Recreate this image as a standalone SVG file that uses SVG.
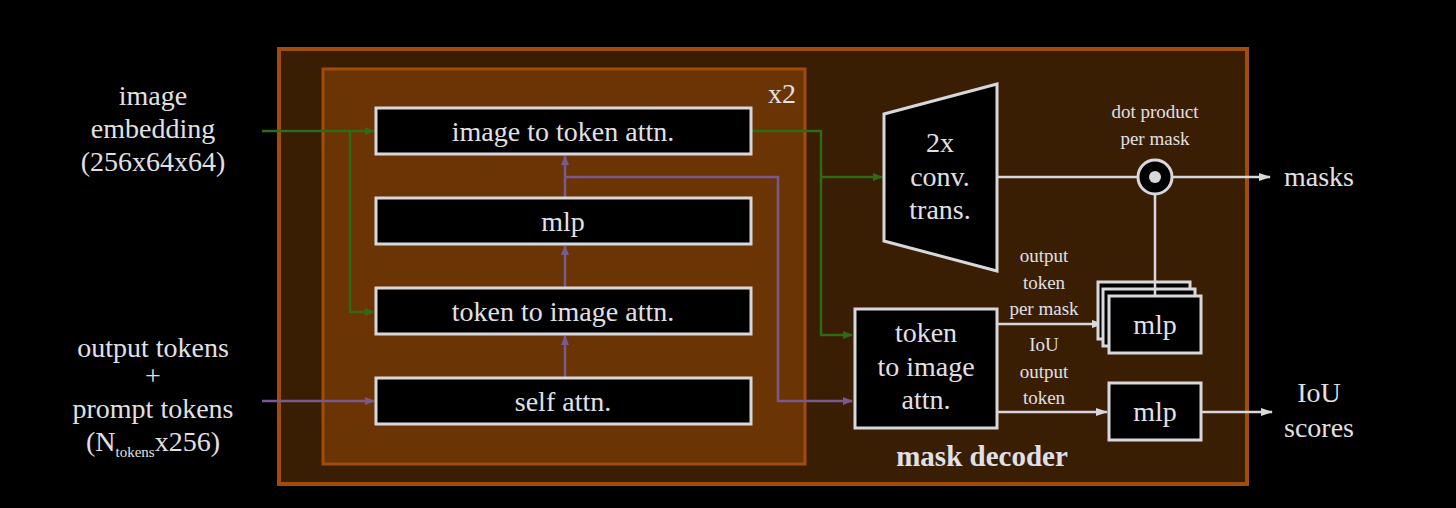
<svg xmlns="http://www.w3.org/2000/svg" width="1456" height="508" viewBox="0 0 1456 508" font-family="'Liberation Serif', 'DejaVu Serif', 'Times New Roman', serif">
<defs>
<style>
text{font-family:"Liberation Serif","DejaVu Serif","Times New Roman",serif;fill:#e0e0e6;text-anchor:middle}
.big{font-size:28px}.sm{font-size:19px}
.box{fill:#000;stroke:#d8d8dc;stroke-width:3}
.g{stroke:#2f6a17;stroke-width:2.5;fill:none}
.p{stroke:#7a5a8e;stroke-width:2.5;fill:none}
.w{stroke:#d8d8dc;stroke-width:2.5;fill:none}
</style>
<marker id="ag" markerWidth="10" markerHeight="8" refX="9" refY="4" orient="auto" markerUnits="userSpaceOnUse"><path d="M0,0L10,4L0,8z" fill="#2f6a17"/></marker>
<marker id="ap" markerWidth="10" markerHeight="8" refX="9" refY="4" orient="auto" markerUnits="userSpaceOnUse"><path d="M0,0L10,4L0,8z" fill="#7a5a8e"/></marker>
<marker id="aw" markerWidth="12" markerHeight="8" refX="11" refY="4" orient="auto" markerUnits="userSpaceOnUse"><path d="M0,0L12,4L0,8z" fill="#d8d8dc"/></marker>
</defs>
<rect width="1456" height="508" fill="#000"/>
<rect id="decoder" x="279" y="49" width="968" height="435" fill="#3a1e04" stroke="#a04c0c" stroke-width="4"/>
<rect id="block" x="323" y="69" width="482" height="395" fill="#6a3405" stroke="#a04c0c" stroke-width="3"/>
<text class="big" x="782" y="103">x2</text>
<text x="982" y="466" style="font-size:29px;font-weight:bold">mask decoder</text>
<g id="inputs">
<text class="big" x="153" y="105">image</text><text class="big" x="153" y="138">embedding</text><text class="big" x="153" y="171">(256x64x64)</text>
<text class="big" x="153" y="357">output tokens</text><text class="big" x="153" y="385">+</text><text class="big" x="153" y="418">prompt tokens</text>
<text class="big" x="153" y="451">(N<tspan style="font-size:15px" dy="6">tokens</tspan><tspan dy="-6">x256)</tspan></text>
</g>
<g id="connectors">
<path class="g" d="M262,131H374" marker-end="url(#ag)"/>
<path class="g" d="M350,131V312H374" marker-end="url(#ag)"/>
<path class="g" d="M752,131H821V335H852" marker-end="url(#ag)"/>
<path class="g" d="M821,177H882" marker-end="url(#ag)"/>
<path class="p" d="M262,401H374" marker-end="url(#ap)"/>
<path class="p" d="M565,378V336" marker-end="url(#ap)"/>
<path class="p" d="M565,288V246" marker-end="url(#ap)"/>
<path class="p" d="M565,198V156" marker-end="url(#ap)"/>
<path class="p" d="M565,177H778V401H852" marker-end="url(#ap)"/>
<path class="w" d="M997,177H1138"/>
<path class="w" d="M1172,177H1270" marker-end="url(#aw)"/>
<path class="w" d="M1155,194V286"/>
<path class="w" d="M997,324H1103" marker-end="url(#aw)"/>
<path class="w" d="M997,412H1107" marker-end="url(#aw)"/>
<path class="w" d="M1201,412H1272" marker-end="url(#aw)"/>
</g>
<g id="n1"><rect class="box" x="376" y="108" width="375" height="46"/><text class="big" x="563" y="141">image to token attn.</text></g>
<g id="n2"><rect class="box" x="376" y="198" width="375" height="46"/><text class="big" x="563" y="231">mlp</text></g>
<g id="n3"><rect class="box" x="376" y="288" width="375" height="46"/><text class="big" x="563" y="321">token to image attn.</text></g>
<g id="n4"><rect class="box" x="376" y="378" width="375" height="46"/><text class="big" x="563" y="411">self attn.</text></g>
<g id="conv"><path class="box" d="M884,114L997,84V271L884,241Z"/><text class="big" x="940" y="152">2x</text><text class="big" x="940" y="186">conv.</text><text class="big" x="940" y="219">trans.</text></g>
<g id="dot"><circle cx="1155" cy="177" r="17" class="box"/><circle cx="1155" cy="177" r="6" fill="#d8d8dc"/>
<text class="sm" x="1155" y="118">dot product</text><text class="sm" x="1155" y="145">per mask</text></g>
<g id="t2i"><rect class="box" x="855" y="309" width="142" height="119"/><text class="big" x="926" y="342">token</text><text class="big" x="926" y="376">to image</text><text class="big" x="926" y="409">attn.</text></g>
<g id="mlpstack"><rect class="box" x="1098" y="282" width="92" height="57"/><rect class="box" x="1103" y="289" width="92" height="57"/><rect class="box" x="1109" y="296" width="92" height="57"/><path class="w" d="M1155,282V296"/><text class="big" x="1155" y="334">mlp</text></g>
<g id="mlpiou"><rect class="box" x="1109" y="383" width="92" height="57"/><text class="big" x="1155" y="421">mlp</text></g>
<g id="labels">
<text class="sm" x="1044" y="262">output</text><text class="sm" x="1044" y="289">token</text><text class="sm" x="1044" y="315">per mask</text>
<text class="sm" x="1044" y="351">IoU</text><text class="sm" x="1044" y="378">output</text><text class="sm" x="1044" y="404">token</text>
<text class="big" x="1319" y="186">masks</text>
<text class="big" x="1319" y="402">IoU</text><text class="big" x="1319" y="437">scores</text>
</g>
</svg>
